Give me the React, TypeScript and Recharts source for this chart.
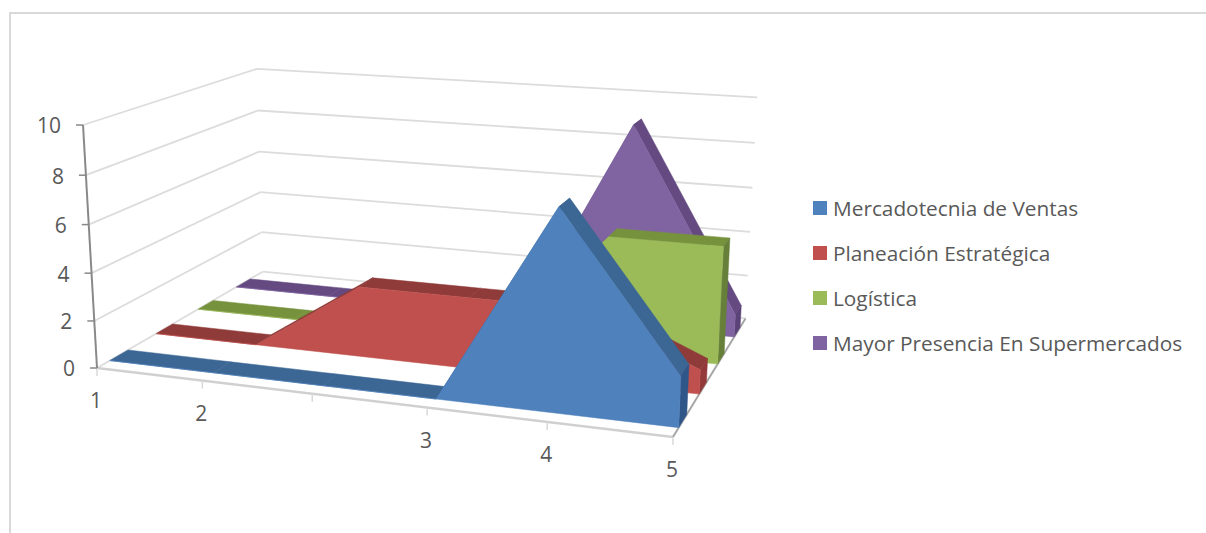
import {
  Area,
  ComposedChart,
  Legend,
  ReferenceDot,
  ReferenceLine,
  XAxis,
  YAxis,
} from "recharts";

const WIDTH = 1206;
const HEIGHT = 533;

// the category axis has six slots, the third one has no label
const categories = ["1", "2", "", "3", "4", "5"];
const valueTicks = [0, 2, 4, 6, 8, 10];
const VALUE_MAX = 10;

const seriesNames = [
  "Mercadotecnia de Ventas",
  "Planeación Estratégica",
  "Logística",
  "Mayor Presencia En Supermercados",
];
const mercadotecnia = [0, 0, 0, 0, 8, 2];
const planeacion = [0, 0, 3, 3, 3, 1];
const logistica = [0, 0, 0, 0, 5, 5];
const presencia = [0, 0, 0, 0, 9, 1];
const seriesValues = [mercadotecnia, planeacion, logistica, presencia];

const frontColors = ["#4f81bd", "#c0504d", "#9bbb59", "#8064a2"];
const topColors = ["#3c6694", "#8f3b39", "#76923c", "#644a80"];
const sideColors = ["#2f5688", "#93393a", "#667f39", "#5b4378"];

const FONT = "'Open Sans', sans-serif";
const TEXT_COLOR = "#595959";

// perspective camera: slot, depth and value fractions to the flat plot plane
function project(slot: number, depth: number, value: number) {
  const u = slot / (categories.length - 1);
  const w = value / VALUE_MAX;
  const d = 1 - 0.105 * u + 0.2087 * depth - 0.04 * w;
  return {
    x: (505.3 * u + 220.5 * depth - 17.3 * w + 97) / d,
    y: (23.1 * u - 39.6 * depth - 248 * w + 368) / d,
  };
}

type Pt = { x: number; y: number };

// an Area with a [low, high] key fills any polygon that is single-valued along x
function polygonRows(poly: Pt[]) {
  const xs = [...new Set(poly.map((p) => Math.round(p.x * 100) / 100))].sort((a, b) => a - b);
  return xs.map((x) => {
    const ys: number[] = [];
    poly.forEach((p, i) => {
      const q = poly[(i + 1) % poly.length];
      const lo = Math.min(p.x, q.x) - 0.006;
      const hi = Math.max(p.x, q.x) + 0.006;
      if (x < lo || x > hi) return;
      if (Math.abs(q.x - p.x) < 0.01) ys.push(p.y, q.y);
      else ys.push(p.y + ((q.y - p.y) * (x - p.x)) / (q.x - p.x));
    });
    return { x, range: [Math.min(...ys), Math.max(...ys)] };
  });
}

const BAND_START = 0.065;
const BAND_STEP = 0.25;
const BAND_DEPTH = 0.095;

function seriesFaces(k: number) {
  const values = seriesValues[k];
  const front = BAND_START + BAND_STEP * k;
  const back = front + BAND_DEPTH;
  const last = values.length - 1;
  const faces: { key: string; fill: string; poly: Pt[] }[] = [];

  values.slice(0, last).forEach((v, i) => {
    faces.push({
      key: `top-${k}-${i}`,
      fill: topColors[k],
      poly: [
        project(i, front, v),
        project(i + 1, front, values[i + 1]),
        project(i + 1, back, values[i + 1]),
        project(i, back, v),
      ],
    });
  });
  faces.push({
    key: `side-${k}`,
    fill: sideColors[k],
    poly: [
      project(last, front, 0),
      project(last, back, 0),
      project(last, back, values[last]),
      project(last, front, values[last]),
    ],
  });
  faces.push({
    key: `front-${k}`,
    fill: frontColors[k],
    poly: [
      project(0, front, 0),
      ...values.map((v, i) => project(i, front, v)),
      project(last, front, 0),
    ],
  });
  return faces;
}

// painted from the back series to the front one
const allFaces = [3, 2, 1, 0].flatMap(seriesFaces);

const LEGEND_ROW = 45;

function LegendList() {
  return (
    <div style={{ fontFamily: FONT, fontSize: 20.8, color: TEXT_COLOR }}>
      {seriesNames.map((name, i) => (
        <div key={name} style={{ display: "flex", alignItems: "center", height: LEGEND_ROW, whiteSpace: "nowrap" }}>
          <span style={{ width: 14, height: 14, background: frontColors[i], marginRight: 6 }} />
          {name}
        </div>
      ))}
    </div>
  );
}

export default function App() {
  const lastSlot = categories.length - 1;
  const axisTop = project(0, 0, VALUE_MAX);
  const axisBottom = project(0, 0, 0);

  return (
    <div style={{ position: "absolute", left: 0, top: 0, width: WIDTH, height: HEIGHT, background: "#fff", overflow: "hidden" }}>
      <div
        style={{
          position: "absolute",
          left: 9,
          top: 12,
          width: WIDTH,
          height: HEIGHT,
          borderLeft: "2px solid #d9d9d9",
          borderTop: "2px solid #d9d9d9",
        }}
      />
      <ComposedChart
        width={WIDTH}
        height={HEIGHT}
        margin={{ top: 0, right: 0, bottom: 0, left: 0 }}
        style={{ position: "absolute", left: 0, top: 0 }}
      >
        <XAxis type="number" dataKey="x" domain={[0, WIDTH]} hide allowDataOverflow />
        <YAxis type="number" domain={[0, HEIGHT]} reversed hide allowDataOverflow />

        {/* wall gridlines, one bent line per value tick */}
        {valueTicks.map((t) => (
          <ReferenceLine
            key={`wall-left-${t}`}
            segment={[project(0, 0, t), project(0, 1, t)]}
            stroke="#dcdcdc"
            strokeWidth={1.8}
            zIndex={-10}
          />
        ))}
        {valueTicks.map((t) => (
          <ReferenceLine
            key={`wall-back-${t}`}
            segment={[project(0, 1, t), project(lastSlot, 1, t)]}
            stroke="#dcdcdc"
            strokeWidth={1.8}
            zIndex={-10}
          />
        ))}

        {/* floor edges and category ticks */}
        <ReferenceLine segment={[project(0, 0, 0), project(lastSlot, 0, 0)]} stroke="#d0d0d0" strokeWidth={2.5} zIndex={-10} />
        <ReferenceLine segment={[project(lastSlot, 0, 0), project(lastSlot, 1, 0)]} stroke="#a6a6a6" strokeWidth={2} zIndex={-10} />
        {categories.map((_, i) => {
          const p = project(i, 0, 0);
          return (
            <ReferenceLine
              key={`cat-tick-${i}`}
              segment={[p, { x: p.x, y: p.y + 8 }]}
              stroke="#d9d9d9"
              strokeWidth={1.5}
              zIndex={-10}
            />
          );
        })}

        {/* value axis */}
        <ReferenceLine segment={[axisTop, axisBottom]} stroke="#898989" strokeWidth={2} zIndex={-9} />
        {valueTicks.map((t) => {
          const p = project(0, 0, t);
          return (
            <ReferenceLine
              key={`value-tick-${t}`}
              segment={[{ x: p.x - 7, y: p.y }, p]}
              stroke="#898989"
              strokeWidth={1.5}
              zIndex={-9}
            />
          );
        })}

        {allFaces.map((f) => (
          <Area
            key={f.key}
            data={polygonRows(f.poly)}
            dataKey="range"
            type="linear"
            fill={f.fill}
            fillOpacity={1}
            stroke={f.fill}
            strokeWidth={0.5}
            dot={false}
            activeDot={false}
            legendType="none"
            isAnimationActive={false}
          />
        ))}

        {valueTicks.map((t) => {
          const p = project(0, 0, t);
          return (
            <ReferenceDot
              key={`value-label-${t}`}
              x={p.x - 22}
              y={p.y + 1}
              r={0}
              fill="none"
              stroke="none"
              label={{ value: String(t), position: "left", offset: 0, fill: TEXT_COLOR, fontSize: 21, fontFamily: FONT }}
            />
          );
        })}
        {categories.map((name, i) => {
          const p = project(i, 0, 0);
          return name ? (
            <ReferenceDot
              key={`cat-label-${i}`}
              x={p.x - 1}
              y={p.y + 33}
              r={0}
              fill="none"
              stroke="none"
              label={{ value: name, position: "center", fill: TEXT_COLOR, fontSize: 21, fontFamily: FONT }}
            />
          ) : null;
        })}

        <Legend
          layout="vertical"
          align="center"
          verticalAlign="middle"
          content={<LegendList />}
          wrapperStyle={{ left: 813, top: 185.5, width: 390 }}
        />
      </ComposedChart>
    </div>
  );
}
